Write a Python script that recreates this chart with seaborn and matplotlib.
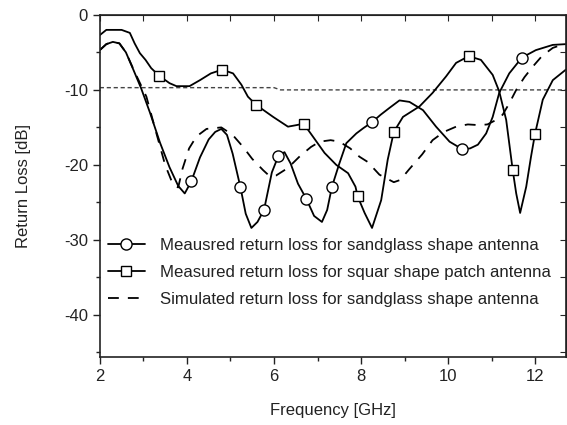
import matplotlib
matplotlib.use("Agg")
import matplotlib.pyplot as plt
import seaborn as sns
from matplotlib.ticker import MultipleLocator

# measured return loss, sandglass antenna (circles)
freq_sand = [2.0, 2.15, 2.3, 2.45, 2.6, 2.77, 2.95, 3.15, 3.38, 3.6, 3.8, 3.95,
             4.10, 4.3, 4.5, 4.65, 4.79, 4.92, 5.05, 5.23, 5.35, 5.48, 5.62, 5.77,
             5.95, 6.10, 6.24, 6.38, 6.55, 6.74, 6.92, 7.10, 7.22, 7.33, 7.5, 7.66,
             7.89, 8.05, 8.25, 8.45, 8.65, 8.88, 9.11, 9.42, 9.72, 10.03, 10.32,
             10.5, 10.68, 10.87, 11.02, 11.17, 11.4, 11.69, 12.01, 12.4, 12.7]
rl_sand = [-4.7, -3.9, -3.6, -3.8, -5.0, -7.3, -9.8, -13.0, -17.0, -20.3, -22.8, -23.8,
           -22.2, -19.0, -16.6, -15.6, -15.2, -16.0, -18.5, -23.0, -26.5, -28.4, -27.6, -26.0,
           -21.0, -18.8, -18.3, -19.8, -22.5, -24.5, -26.8, -27.6, -26.0, -22.9, -19.8, -17.1,
           -15.8, -15.1, -14.3, -13.3, -12.4, -11.4, -11.6, -12.7, -14.9, -16.9, -17.9,
           -17.8, -17.3, -15.8, -13.6, -10.4, -7.8, -5.7, -4.7, -4.0, -3.9]
mark_sand = [12, 19, 23, 25, 29, 33, 38, 46, 53]

# measured return loss, square patch antenna (squares)
freq_sq = [2.0, 2.15, 2.5, 2.69, 2.8, 2.92, 3.05, 3.18, 3.36, 3.6, 3.76, 4.06,
           4.3, 4.55, 4.81, 5.06, 5.25, 5.4, 5.59, 5.98, 6.32, 6.51, 6.68, 6.89,
           7.16, 7.43, 7.7, 7.87, 7.92, 8.08, 8.25, 8.46, 8.61, 8.75, 8.96, 9.34,
           9.64, 9.95, 10.18, 10.47, 10.75, 11.02, 11.17, 11.33, 11.48, 11.56, 11.65,
           11.79, 11.9, 11.99, 12.17, 12.4, 12.7]
rl_sq = [-2.7, -2.0, -2.0, -2.4, -3.8, -5.1, -6.0, -7.1, -8.1, -9.1, -9.5, -9.5,
         -8.7, -7.8, -7.3, -7.8, -9.3, -10.9, -12.0, -13.6, -14.9, -14.7, -14.5, -16.2,
         -18.4, -20.0, -21.1, -22.9, -24.2, -26.4, -28.4, -24.7, -19.3, -15.6, -13.6, -12.2,
         -10.4, -8.2, -6.4, -5.5, -6.0, -8.0, -10.2, -14.0, -20.7, -23.8, -26.4,
         -22.9, -18.9, -15.9, -11.3, -8.7, -7.3]
mark_sq = [8, 14, 18, 22, 28, 33, 39, 44, 49]

# simulated return loss, sandglass antenna
freq_sim = [2.0, 2.15, 2.3, 2.45, 2.6, 2.8, 3.07, 3.3, 3.5, 3.68, 3.8, 3.9, 4.05,
            4.22, 4.45, 4.79, 5.05, 5.29, 5.5, 5.75, 5.9, 6.05, 6.32, 6.6, 6.85,
            7.05, 7.3, 7.5, 7.75, 7.96, 8.15, 8.42, 8.75, 8.9, 9.1, 9.4, 9.64, 9.9,
            10.18, 10.45, 10.72, 10.9, 11.1, 11.25, 11.4, 11.56, 11.75, 11.94, 12.15,
            12.4, 12.7]
rl_sim = [-4.7, -3.9, -3.6, -3.8, -5.0, -7.6, -10.9, -15.8, -20.0, -22.6, -23.0, -20.5, -17.8,
          -16.2, -15.2, -15.0, -16.0, -17.6, -19.2, -20.7, -21.5, -21.4, -20.4, -18.8, -17.6,
          -16.9, -16.7, -16.9, -17.8, -18.9, -19.6, -21.3, -22.3, -22.0, -20.6, -18.6, -16.7, -15.6,
          -14.9, -14.6, -14.7, -14.6, -14.0, -13.3, -11.8, -10.0, -8.3, -6.9, -5.5,
          -4.4, -3.8]

# -10 dB reference line
freq_ref = [2.0, 6.0, 6.15, 12.7]
rl_ref = [-9.7, -9.7, -10.0, -10.0]

labels = ["Meausred return loss for sandglass shape antenna",
          "Measured return loss for squar shape patch antenna",
          "Simulated return loss for sandglass shape antenna"]

sns.set_style("ticks")
plt.rcParams["font.family"] = ["Liberation Sans", "DejaVu Sans"]
plt.rcParams["text.color"] = "#222222"
plt.rcParams["axes.labelcolor"] = "#222222"
plt.rcParams["axes.unicode_minus"] = False

fig = plt.figure(figsize=(5.67, 4.25), dpi=100)
ax = fig.add_axes([0.176, 0.16, 0.822, 0.805])

sns.lineplot(x=freq_ref, y=rl_ref, ax=ax, color="#444444", linewidth=1.0,
             linestyle=(0, (3, 2)), sort=False)
sns.lineplot(x=freq_sand, y=rl_sand, ax=ax, color="k", linewidth=1.3,
             marker="o", markevery=mark_sand, markersize=8,
             markerfacecolor="white", markeredgecolor="k", markeredgewidth=1.0,
             label=labels[0])
sns.lineplot(x=freq_sq, y=rl_sq, ax=ax, color="k", linewidth=1.3,
             marker="s", markevery=mark_sq, markersize=7.5,
             markerfacecolor="white", markeredgecolor="k", markeredgewidth=1.0,
             label=labels[1])
sns.lineplot(x=freq_sim, y=rl_sim, ax=ax, color="k", linewidth=1.3,
             linestyle=(0, (6, 5)), label=labels[2])

ax.set_xlim(2, 12.7)
ax.set_ylim(-45.6, 0)
ax.xaxis.set_major_locator(MultipleLocator(2))
ax.xaxis.set_minor_locator(MultipleLocator(1))
ax.yaxis.set_major_locator(MultipleLocator(10))
ax.yaxis.set_minor_locator(MultipleLocator(5))
ax.tick_params(which="both", direction="out", top=False, right=False,
               labelsize=12, colors="#222222", width=1.0)
ax.tick_params(which="major", length=5)
ax.tick_params(which="minor", length=3)

# inward ticks on top and right
ax_top = ax.secondary_xaxis("top")
ax_top.xaxis.set_major_locator(MultipleLocator(1))
ax_top.tick_params(direction="in", length=4, labeltop=False)
ax_right = ax.secondary_yaxis("right")
ax_right.yaxis.set_major_locator(MultipleLocator(5))
ax_right.tick_params(direction="in", length=4, labelright=False)

for sp in ax.spines.values():
    sp.set_linewidth(1.2)
    sp.set_color("#222222")

ax.set_xlabel("Frequency [GHz]", fontsize=12, labelpad=14)
ax.set_ylabel("Return Loss [dB]", fontsize=12, labelpad=24)

ax.legend(loc="upper left", bbox_to_anchor=(0.017, 0.349), frameon=False,
          fontsize=12.1, handlelength=2.2, handletextpad=0.9,
          labelspacing=0.72, borderpad=0, borderaxespad=0)

fig.savefig("out.png", dpi=100)
